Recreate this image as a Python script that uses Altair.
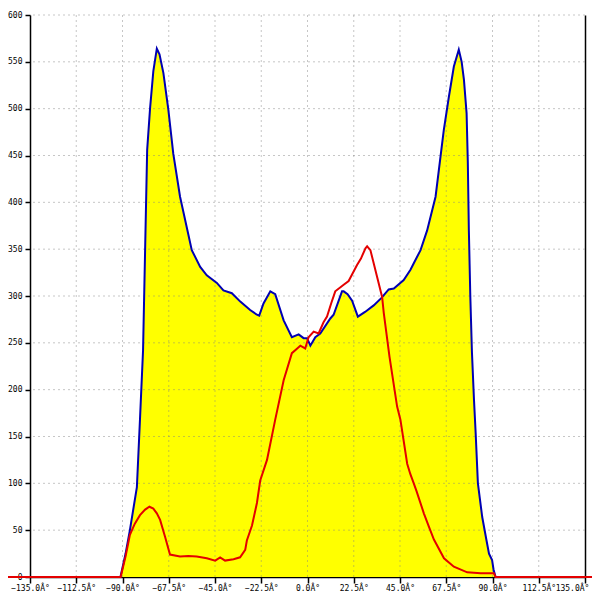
import altair as alt
import pandas as pd

# Blue series (angle in degrees, value)
BLUE_DEG = [-180, -91, -88.5, -86.4, -83, -81.5, -80, -79, -78, -76.6, -75, -73.3, -72, -70.1,
            -67.7, -65.3, -62, -58.4, -56.3, -52.2, -49, -44.1, -40.9, -36.8, -32.7, -27.9,
            -24.6, -23.5, -21.4, -18.1, -15.7, -11.6, -7.6, -4.3, -1.9, -0.2, 1.4, 3.8, 6.2,
            11.1, 12.7, 16.8, 17.6, 19.5, 21.7, 24.5, 28, 32.2, 36, 39.5, 42, 46.8, 50.1,
            51.7, 55, 58.2, 62.3, 66.3, 68.8, 71.2, 73.6, 75, 76.1, 77.4, 78, 78.5, 79.2, 80,
            81, 81.8, 82.9, 85, 87, 88.3, 89.8, 90.5, 91.5, 180]
BLUE_VAL = [0, 0, 25, 50, 96, 168, 242, 349, 456, 500, 540, 564, 558, 538,
            499, 452, 406, 370, 349, 331, 322, 314, 306, 303, 294, 285,
            280, 279, 292, 305, 302, 274, 256, 259, 255, 255, 247, 256, 260,
            276, 280, 305, 305, 302, 295, 278, 283, 290, 298, 307, 308, 317, 328,
            335, 349, 370, 406, 477, 513, 545, 563, 550, 531, 495, 442, 370, 300, 240,
            189, 154, 100, 64, 40, 25, 18, 8, 0, 0]

# Red series
RED_DEG = [-180, -90.9, -88.5, -86.4, -84, -81.5, -79, -76.9, -75, -73.3, -71.7, -69.3, -66.9,
           -62, -58, -53.9, -49, -44.9, -42.5, -40.1, -36, -32.8, -30.3, -29.5, -27, -24.6,
           -23, -19.7, -15.7, -11.6, -7.6, -5, -3.5, -1.1, 0.5, 3, 5.4, 7.8, 9.5, 11.5,
           13.5, 17.6, 20, 24.1, 26, 28.2, 29, 30.6, 32.2, 33.9, 36.3, 37.1, 39.9, 43.6,
           45.2, 48.5, 50, 51.7, 53, 56.6, 59, 61.5, 66.4, 71.2, 77.7, 84.2, 90.7, 91.5, 180]
RED_VAL = [0, 0, 22, 45, 57, 66, 72, 75, 73, 68, 61, 43, 24,
           22, 22.5, 22, 20, 17.5, 21, 17.5, 19, 21, 29, 39, 55, 79,
           103, 125, 168, 210, 239, 244, 247, 244, 256, 262, 260, 272, 278, 292,
           305, 312, 316, 333, 340, 351, 353, 349, 335, 320, 299, 282, 235, 182,
           168, 121, 110, 100, 92, 68, 54, 40, 20, 11, 5, 4, 4, 0, 0]

X_TICKS = [-135, -112.5, -90, -67.5, -45, -22.5, 0, 22.5, 45, 67.5, 90, 112.5, 135]
Y_TICKS = [0, 50, 100, 150, 200, 250, 300, 350, 400, 450, 500, 550, 600]
X_GRID = [-112.5, -90, -67.5, -45, -22.5, 0, 22.5, 45, 67.5, 90, 112.5]
Y_GRID = [50, 100, 150, 200, 250, 300, 350, 400, 450, 500, 550, 600]

blue = pd.DataFrame({"deg": BLUE_DEG, "val": BLUE_VAL})
red = pd.DataFrame({"deg": RED_DEG, "val": RED_VAL})
xgrid = pd.DataFrame({"deg": X_GRID})
ygrid = pd.DataFrame({"val": Y_GRID})

xscale = alt.Scale(domain=[-135, 135], nice=False, zero=False)
yscale = alt.Scale(domain=[0, 600], nice=False)

xaxis = alt.Axis(values=X_TICKS, labelExpr="format(datum.value, '.1f') + 'Â°'",
                 title=None, grid=False, tickSize=6, labelPadding=1,
                 labelFlush=False, labelOverlap=False, domain=True,
                 labelOffset=alt.condition("datum.value >= 135", alt.value(-13), alt.value(0)))
yaxis = alt.Axis(values=Y_TICKS, format="d", title=None, grid=False, tickSize=5,
                 labelPadding=3, labelFlush=False, labelOverlap=False)

X = alt.X("deg:Q", scale=xscale, axis=xaxis)

area = alt.Chart(blue).mark_area(color="#FFFF00", clip=False).encode(
    x=X,
    y=alt.Y("val:Q", scale=yscale, axis=yaxis),
)

grid_style = dict(color="#808080", strokeOpacity=0.45, strokeDash=[2, 3], strokeWidth=1)
vgrid = alt.Chart(xgrid).mark_rule(**grid_style).encode(x=X)
hgrid = alt.Chart(ygrid).mark_rule(**grid_style).encode(
    y=alt.Y("val:Q", scale=yscale,
            axis=alt.Axis(orient="right", labels=False, ticks=False, grid=False,
                          title=None, domainColor="black", domainWidth=1.5))
)

blue_line = alt.Chart(blue).mark_line(color="#0000B4", strokeWidth=2, clip=False).encode(
    x=X,
    y=alt.Y("val:Q", scale=yscale, axis=None),
)
red_line = alt.Chart(red).mark_line(color="#E40000", strokeWidth=2, clip=False).encode(
    x=X,
    y=alt.Y("val:Q", scale=yscale, axis=None),
)

chart = alt.layer(area, vgrid, hgrid, blue_line, red_line).resolve_scale(
    y="shared", x="shared"
).resolve_axis(y="independent").properties(
    width=555, height=562,
    autosize=alt.AutoSizeParams(type="none"),
    padding={"left": 22, "top": 7, "right": 7, "bottom": 15},
    background="white",
).configure_view(stroke=None).configure_axis(
    labelFont="DejaVu Sans Mono", labelFontSize=8, labelColor="black",
    tickColor="black", domainColor="black", domainWidth=1.5, tickWidth=1.5,
)

chart.save("out.html", embed_options={"renderer": "svg", "actions": False})
